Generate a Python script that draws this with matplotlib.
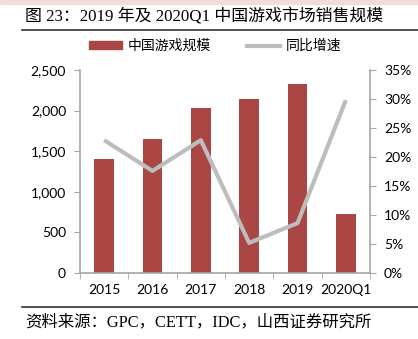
import matplotlib
matplotlib.use("Agg")
import matplotlib.pyplot as plt
from matplotlib.ticker import FuncFormatter
from matplotlib.patches import Rectangle
from matplotlib.lines import Line2D

categories = ["2015", "2016", "2017", "2018", "2019", "2020Q1"]
market_size = [1407, 1656, 2036, 2144, 2330, 732]
growth = [22.9, 17.6, 22.9, 5.2, 8.6, 29.8]
left_ticks = [0, 500, 1000, 1500, 2000, 2500]
right_ticks = [0, 5, 10, 15, 20, 25, 30, 35]

title = "图 23：2019 年及 2020Q1 中国游戏市场销售规模"
source = "资料来源：GPC，CETT，IDC，山西证券研究所"
legend_labels = ["中国游戏规模", "同比增速"]

W, H = 418, 339
fig = plt.figure(figsize=(W / 100, H / 100), dpi=100)

serif_cjk = ["Liberation Serif", "Noto Sans CJK SC"]
sans_cjk = ["Noto Sans CJK SC", "DejaVu Sans"]
tick_font = "Lato"

bar_color = "#AA4643"
line_color = "#BDBDBD"
axis_color = "#A6A6A6"

# top pink band
fig.patches.append(Rectangle((0, 1 - 4 / H), 1, 4 / H, transform=fig.transFigure,
                             color="#F2DCDB", zorder=0))
fig.text(25 / W, 1 - 17 / H, title, family=serif_cjk, fontsize=12.2,
         va="center", ha="left")
fig.add_artist(Line2D([22 / W, 1], [1 - 30 / H, 1 - 30 / H], color="#333333", lw=1.2))
fig.add_artist(Line2D([22 / W, 1], [1 - 307 / H, 1 - 307 / H], color="#333333", lw=1.2))
fig.text(25 / W, 1 - 322 / H, source, family=serif_cjk, fontsize=11.8,
         va="center", ha="left")

ax = fig.add_axes([80 / W, 1 - 273 / H, 290 / W, 203 / H])
x = list(range(len(categories)))
ax.bar(x, market_size, width=0.4, color=bar_color, zorder=2)
ax.set_xlim(-0.5, len(categories) - 0.5)
ax.set_ylim(0, 2500)
ax.set_yticks(left_ticks)
ax.yaxis.set_major_formatter(FuncFormatter(lambda v, p: f"{int(v):,}"))
ax.set_xticks(x)
ax.set_xticklabels(categories)
ax.set_xticks([i - 0.5 for i in range(len(categories) + 1)], minor=True)
ax.tick_params(axis="x", which="major", length=0, pad=8)
ax.tick_params(axis="x", which="minor", length=4, color=axis_color, direction="out")
ax.tick_params(axis="y", length=4, color=axis_color, direction="out", pad=6)
for lab in ax.get_xticklabels() + ax.get_yticklabels():
    lab.set_family(tick_font)
    lab.set_fontsize(10)
for s in ["top", "right"]:
    ax.spines[s].set_visible(False)
for s in ["left", "bottom"]:
    ax.spines[s].set_color(axis_color)
    ax.spines[s].set_linewidth(1.2)

ax2 = ax.twinx()
ax2.plot(x, growth, color=line_color, lw=3, zorder=3, solid_capstyle="butt")
ax2.set_ylim(0, 35)
ax2.set_yticks(right_ticks)
ax2.yaxis.set_major_formatter(FuncFormatter(lambda v, p: f"{int(v)}%"))
ax2.tick_params(axis="y", length=4, color=axis_color, direction="out", pad=6)
for lab in ax2.get_yticklabels():
    lab.set_family(tick_font)
    lab.set_fontsize(10)
for s in ["top", "left", "bottom"]:
    ax2.spines[s].set_visible(False)
ax2.spines["right"].set_color(axis_color)
ax2.spines["right"].set_linewidth(1.2)

# legend
handles = [Rectangle((0, 0), 1, 1, color=bar_color),
           Line2D([0], [0], color=line_color, lw=3)]
fig.legend(handles, legend_labels, loc="center", bbox_to_anchor=(215 / W, 1 - 46 / H),
           ncol=2, frameon=False, prop={"family": sans_cjk, "size": 10},
           handlelength=2.4, handleheight=0.5, columnspacing=2.6, handletextpad=0.4)

fig.savefig("out.png", dpi=100, facecolor="white")
